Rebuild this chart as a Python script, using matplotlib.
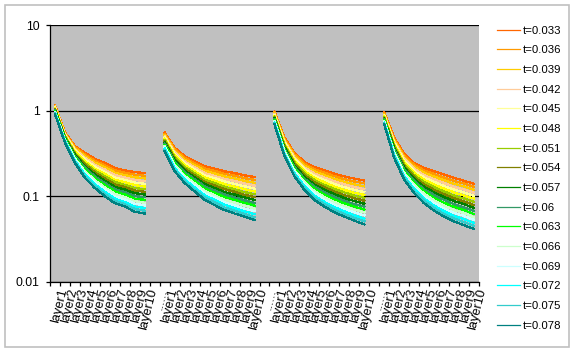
import numpy as np
import matplotlib
matplotlib.use("Agg")
import matplotlib.pyplot as plt
from matplotlib.patches import Rectangle

plt.rcParams['font.family'] = ['Liberation Sans', 'DejaVu Sans']

# series labels and colours (Excel palette)
times = ['t=0.033', 't=0.036', 't=0.039', 't=0.042', 't=0.045', 't=0.048',
         't=0.051', 't=0.054', 't=0.057', 't=0.06', 't=0.063', 't=0.066',
         't=0.069', 't=0.072', 't=0.075', 't=0.078']
colors = ['#FF6600', '#FF9900', '#FFCC00', '#FFCC99', '#FFFF99', '#FFFF00',
          '#99CC00', '#808000', '#008000', '#339966', '#00FF00', '#CCFFCC',
          '#CCFFFF', '#00FFFF', '#33CCCC', '#008080']

layers = ['layer1', 'layer2', 'layer3', 'layer4', 'layer5', 'layer6',
          'layer7', 'layer8', 'layer9', 'layer10']
sep = '......'

# one row per layer, one column per time step
grp1 = [
    [1.16, 1.14, 1.12, 1.11, 1.09, 1.07, 1.05, 1.04, 1.02, 1.00, 0.99, 0.97, 0.955, 0.94, 0.925, 0.91],
    [0.558, 0.548, 0.538, 0.528, 0.519, 0.509, 0.500, 0.491, 0.481, 0.472, 0.463, 0.455, 0.447, 0.439, 0.431, 0.423],
    [0.385, 0.374, 0.363, 0.352, 0.342, 0.332, 0.322, 0.313, 0.303, 0.294, 0.285, 0.277, 0.269, 0.261, 0.253, 0.245],
    [0.322, 0.308, 0.294, 0.281, 0.269, 0.257, 0.245, 0.235, 0.224, 0.215, 0.205, 0.196, 0.187, 0.179, 0.171, 0.164],
    [0.274, 0.259, 0.247, 0.234, 0.222, 0.210, 0.200, 0.190, 0.180, 0.171, 0.162, 0.154, 0.146, 0.138, 0.132, 0.125],
    [0.245, 0.231, 0.218, 0.205, 0.193, 0.182, 0.171, 0.161, 0.152, 0.143, 0.135, 0.127, 0.120, 0.113, 0.106, 0.100],
    [0.214, 0.201, 0.189, 0.177, 0.166, 0.156, 0.147, 0.138, 0.129, 0.121, 0.114, 0.107, 0.100, 0.094, 0.089, 0.083],
    [0.201, 0.189, 0.177, 0.166, 0.155, 0.146, 0.136, 0.128, 0.120, 0.112, 0.105, 0.098, 0.092, 0.086, 0.081, 0.076],
    [0.192, 0.179, 0.167, 0.155, 0.145, 0.135, 0.125, 0.117, 0.109, 0.101, 0.094, 0.088, 0.082, 0.076, 0.071, 0.066],
    [0.187, 0.174, 0.162, 0.151, 0.140, 0.130, 0.121, 0.113, 0.105, 0.0975, 0.091, 0.084, 0.0785, 0.073, 0.068, 0.063],
]
grp2 = [
    [0.553, 0.535, 0.518, 0.501, 0.484, 0.469, 0.454, 0.439, 0.425, 0.410, 0.397, 0.385, 0.372, 0.360, 0.348, 0.337],
    [0.369, 0.354, 0.339, 0.325, 0.312, 0.299, 0.286, 0.275, 0.263, 0.252, 0.242, 0.232, 0.222, 0.213, 0.204, 0.196],
    [0.294, 0.281, 0.267, 0.255, 0.243, 0.231, 0.220, 0.210, 0.200, 0.191, 0.182, 0.173, 0.165, 0.157, 0.150, 0.143],
    [0.257, 0.243, 0.231, 0.218, 0.207, 0.196, 0.186, 0.176, 0.167, 0.158, 0.150, 0.142, 0.134, 0.127, 0.120, 0.114],
    [0.224, 0.211, 0.199, 0.187, 0.176, 0.166, 0.156, 0.147, 0.139, 0.131, 0.123, 0.116, 0.109, 0.103, 0.097, 0.091],
    [0.211, 0.198, 0.185, 0.173, 0.163, 0.152, 0.143, 0.134, 0.125, 0.117, 0.110, 0.103, 0.097, 0.091, 0.085, 0.079],
    [0.196, 0.183, 0.171, 0.159, 0.149, 0.139, 0.129, 0.121, 0.112, 0.105, 0.098, 0.091, 0.085, 0.080, 0.074, 0.069],
    [0.187, 0.174, 0.162, 0.151, 0.140, 0.130, 0.121, 0.113, 0.105, 0.0975, 0.091, 0.084, 0.0785, 0.073, 0.068, 0.063],
    [0.176, 0.163, 0.151, 0.141, 0.131, 0.121, 0.112, 0.104, 0.097, 0.090, 0.084, 0.078, 0.072, 0.067, 0.062, 0.058],
    [0.168, 0.156, 0.144, 0.133, 0.123, 0.114, 0.106, 0.098, 0.091, 0.084, 0.078, 0.072, 0.067, 0.062, 0.057, 0.053],
]
grp3 = [
    [0.977, 0.955, 0.933, 0.912, 0.891, 0.871, 0.851, 0.832, 0.815, 0.796, 0.778, 0.760, 0.743, 0.726, 0.710, 0.693],
    [0.484, 0.469, 0.453, 0.439, 0.424, 0.410, 0.397, 0.384, 0.372, 0.359, 0.348, 0.337, 0.325, 0.315, 0.304, 0.294],
    [0.322, 0.309, 0.296, 0.284, 0.272, 0.261, 0.250, 0.240, 0.230, 0.220, 0.211, 0.202, 0.194, 0.186, 0.178, 0.171],
    [0.252, 0.240, 0.229, 0.217, 0.207, 0.196, 0.187, 0.178, 0.169, 0.161, 0.153, 0.146, 0.138, 0.132, 0.125, 0.119],
    [0.220, 0.207, 0.196, 0.185, 0.174, 0.164, 0.155, 0.146, 0.137, 0.130, 0.122, 0.115, 0.109, 0.102, 0.097, 0.091],
    [0.201, 0.189, 0.177, 0.166, 0.155, 0.146, 0.136, 0.128, 0.120, 0.112, 0.105, 0.098, 0.092, 0.086, 0.081, 0.076],
    [0.184, 0.172, 0.160, 0.150, 0.140, 0.130, 0.122, 0.114, 0.106, 0.099, 0.092, 0.086, 0.080, 0.075, 0.070, 0.065],
    [0.171, 0.159, 0.148, 0.138, 0.128, 0.119, 0.111, 0.103, 0.096, 0.089, 0.083, 0.077, 0.072, 0.067, 0.062, 0.058],
    [0.161, 0.149, 0.138, 0.128, 0.119, 0.110, 0.102, 0.095, 0.088, 0.081, 0.076, 0.070, 0.065, 0.060, 0.056, 0.052],
    [0.153, 0.142, 0.131, 0.121, 0.112, 0.104, 0.096, 0.089, 0.082, 0.076, 0.070, 0.065, 0.060, 0.055, 0.051, 0.047],
]
grp4 = [
    [0.953, 0.933, 0.914, 0.893, 0.875, 0.857, 0.839, 0.822, 0.804, 0.787, 0.771, 0.755, 0.740, 0.723, 0.708, 0.693],
    [0.484, 0.467, 0.451, 0.435, 0.419, 0.405, 0.390, 0.376, 0.362, 0.350, 0.337, 0.325, 0.313, 0.303, 0.292, 0.281],
    [0.313, 0.299, 0.286, 0.273, 0.260, 0.248, 0.237, 0.226, 0.216, 0.207, 0.197, 0.188, 0.179, 0.171, 0.164, 0.156],
    [0.245, 0.233, 0.220, 0.209, 0.198, 0.187, 0.177, 0.168, 0.159, 0.151, 0.143, 0.136, 0.128, 0.122, 0.115, 0.109],
    [0.214, 0.201, 0.189, 0.177, 0.166, 0.156, 0.147, 0.138, 0.129, 0.121, 0.114, 0.107, 0.100, 0.094, 0.089, 0.083],
    [0.196, 0.182, 0.170, 0.158, 0.148, 0.137, 0.128, 0.119, 0.111, 0.104, 0.096, 0.090, 0.084, 0.078, 0.073, 0.068],
    [0.179, 0.166, 0.154, 0.143, 0.132, 0.123, 0.114, 0.106, 0.098, 0.091, 0.084, 0.078, 0.072, 0.067, 0.062, 0.058],
    [0.164, 0.151, 0.140, 0.129, 0.120, 0.111, 0.102, 0.095, 0.088, 0.081, 0.075, 0.069, 0.064, 0.059, 0.055, 0.051],
    [0.152, 0.141, 0.130, 0.120, 0.111, 0.102, 0.094, 0.087, 0.081, 0.074, 0.069, 0.064, 0.059, 0.054, 0.050, 0.046],
    [0.140, 0.129, 0.119, 0.110, 0.101, 0.094, 0.086, 0.079, 0.073, 0.068, 0.062, 0.057, 0.053, 0.049, 0.045, 0.0415],
]

# category axis: 4 blocks of layers with a separator between them
groups = [grp1, grp2, grp3, grp4]
cats = []
rows = []
gap = [np.nan] * len(times)
for i, g in enumerate(groups):
    if i > 0:
        cats.append(sep)
        rows.append(gap)
    cats += layers
    rows += g
vals = np.array(rows, dtype=float)
x = np.arange(len(cats))

fig = plt.figure(figsize=(5.76, 3.53), dpi=100)
fig.patches.append(Rectangle((5 / 576, 6 / 353), 564 / 576, 342 / 353, transform=fig.transFigure,
                             fill=False, edgecolor='#c0c0c0', linewidth=1.2))
ax = fig.add_axes([50 / 576, 1 - 282 / 353, 429 / 576, 257 / 353])
ax.set_facecolor('#c0c0c0')

for k in range(len(times)):
    ax.plot(x, vals[:, k], color=colors[k], lw=0.9, label=times[k], antialiased=False)

ax.set_yscale('log')
ax.set_ylim(0.01, 10)
ax.set_xlim(-0.5, len(cats) - 0.5)
ax.set_yticks([0.01, 0.1, 1, 10])
ax.set_yticklabels(['0.01', '0.1', '1', '10'], fontsize=8.8)
ax.yaxis.set_minor_locator(matplotlib.ticker.NullLocator())
ax.grid(axis='y', color='black', lw=0.9)
ax.tick_params(axis='y', length=3, width=0.9, pad=4.5)

ax.set_xticks(np.arange(len(cats) + 1) - 0.5)
ax.set_xticklabels([])
ax.tick_params(axis='x', length=3, width=0.9)
for xi, c in zip(x, cats):
    ax.text(xi + 0.3, -0.02, c, transform=ax.get_xaxis_transform(), rotation=76,
            ha='right', va='top', rotation_mode='anchor', fontsize=9.2)

for s in ['top', 'right']:
    ax.spines[s].set_visible(False)
for s in ['left', 'bottom']:
    ax.spines[s].set_linewidth(0.9)

fig.legend(loc='upper left', bbox_to_anchor=(497 / 576, 1 - 25.5 / 353), frameon=False,
           fontsize=8.2, handlelength=2.0, handletextpad=0.3, labelspacing=0.85,
           borderpad=0, borderaxespad=0)

fig.savefig('out.png', dpi=100)
